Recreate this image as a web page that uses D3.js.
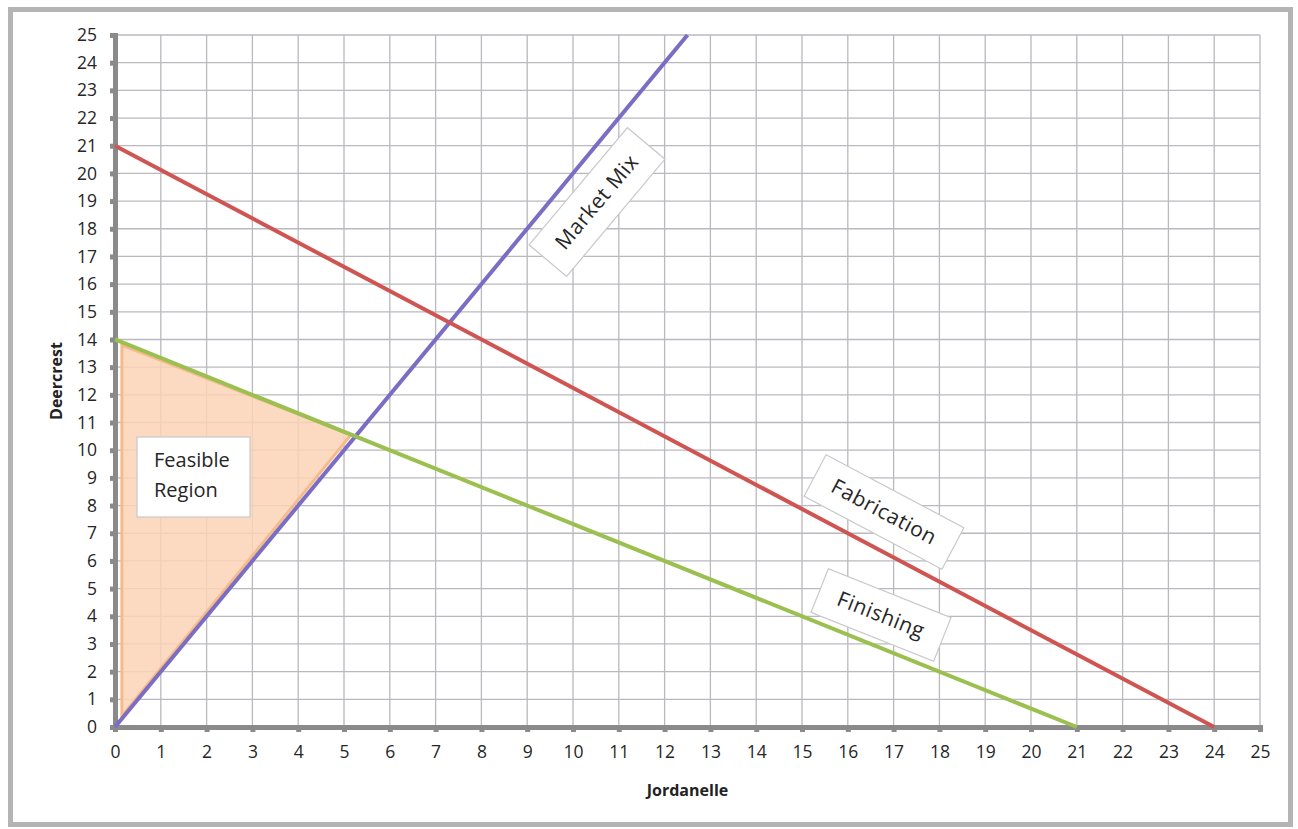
<!DOCTYPE html>
<html><head><meta charset="utf-8">
<script src="https://cdn.jsdelivr.net/npm/d3@7"></script>
<style>body{margin:0;background:#fff;} text{font-family:"Open Sans","DejaVu Sans",sans-serif;}</style>
</head><body>
<svg id="c" width="1298" height="829"></svg>
<script>
const xTicks = d3.range(0, 26);
const yTicks = d3.range(0, 26);
const marketMix = [[0,0],[12.5,25]];
const fabrication = [[0,21],[24,0]];
const finishing = [[0,14],[21,0]];
const feasible = [[0.15,0.4],[0.15,13.8],[5.15,10.55]];
const lineNames = ["Market Mix","Fabrication","Finishing"];
const lineColors = ["#7b6cc4","#cf5552","#9bc04f"];

const svg = d3.select("#c");
// frame
svg.append("rect").attr("x",10.5).attr("y",9.5).attr("width",1280).attr("height",815)
  .attr("fill","#fff").attr("stroke","#b4b4b4").attr("stroke-width",5);

const x = d3.scaleLinear().domain([0,25]).range([115,1260]);
const y = d3.scaleLinear().domain([0,25]).range([727,35]);

const g = svg.append("g");
// grid
g.selectAll(".vg").data(xTicks.slice(1)).join("line")
  .attr("x1",d=>x(d)).attr("x2",d=>x(d)).attr("y1",y(0)).attr("y2",y(25))
  .attr("stroke","#b9b9bf").attr("stroke-width",1.3);
g.selectAll(".hg").data(yTicks.slice(1)).join("line")
  .attr("y1",d=>y(d)).attr("y2",d=>y(d)).attr("x1",x(0)).attr("x2",x(25))
  .attr("stroke","#b9b9bf").attr("stroke-width",1.3);

// feasible region
g.append("path").attr("d", d3.line().x(d=>x(d[0])).y(d=>y(d[1]))(feasible)+"Z")
  .attr("fill","#fbd3b6").attr("fill-opacity",0.85).attr("stroke","#f5bb8a").attr("stroke-width",3);

// axes
const xAxis = d3.axisBottom(x).tickValues(xTicks).tickSize(5).tickPadding(14);
const yAxis = d3.axisLeft(y).tickValues(yTicks).tickSize(5).tickPadding(13);
const xa = svg.append("g").attr("transform",`translate(0,${y(0)})`).call(xAxis);
const ya = svg.append("g").attr("transform",`translate(${x(0)},0)`).call(yAxis);
[xa,ya].forEach(a=>{
  a.select(".domain").attr("stroke","#8a8a8a").attr("stroke-width",5);
  a.selectAll(".tick line").attr("stroke","#8a8a8a").attr("stroke-width",5);
  a.selectAll("text").attr("fill","#262626").attr("font-size",17.5).attr("font-family","Open Sans, sans-serif");
});

// lines
const lineGen = d3.line().x(d=>x(d[0])).y(d=>y(d[1]));
[marketMix,fabrication,finishing].forEach((data,i)=>{
  svg.append("path").attr("d",lineGen(data)).attr("stroke",lineColors[i]).attr("stroke-width",4).attr("fill","none");
});

// axis titles
svg.append("text").attr("x",x(12.5)).attr("y",796).attr("text-anchor","middle")
  .attr("font-size",16).attr("font-weight","bold").attr("fill","#222").text("Jordanelle");
svg.append("text").attr("transform",`translate(62,${y(12.5)}) rotate(-90)`).attr("text-anchor","middle")
  .attr("font-size",16).attr("font-weight","bold").attr("fill","#222").text("Deercrest");

// label boxes
function labelBox(cx, cy, w, h, ang, lines, fs){
  const lg = svg.append("g").attr("transform",`translate(${cx},${cy}) rotate(${ang})`);
  lg.append("rect").attr("x",-w/2).attr("y",-h/2).attr("width",w).attr("height",h)
    .attr("fill","#fff").attr("stroke","#c8c8c8").attr("stroke-width",1.2);
  lines.forEach((t,k)=>{
    lg.append("text").attr("x",0).attr("y",(k-(lines.length-1)/2)*30+7)
      .attr("text-anchor","middle").attr("font-size",fs).attr("letter-spacing",0.6).attr("fill","#262626").text(t);
  });
}
labelBox(597,202,153,49,-50,[lineNames[0]],21);
labelBox(884,512,156,47,27.9,[lineNames[1]],21);
labelBox(881,615,132,47,21.7,[lineNames[2]],21);
// feasible region box (left-aligned text)
const fb = svg.append("g");
fb.append("rect").attr("x",137).attr("y",437).attr("width",113).attr("height",80)
  .attr("fill","#fff").attr("stroke","#c8c8c8").attr("stroke-width",1.2);
fb.append("text").attr("x",154).attr("y",467).attr("font-size",20).attr("fill","#262626").text("Feasible");
fb.append("text").attr("x",154).attr("y",497).attr("font-size",20).attr("fill","#262626").text("Region");
</script>
</body></html>
